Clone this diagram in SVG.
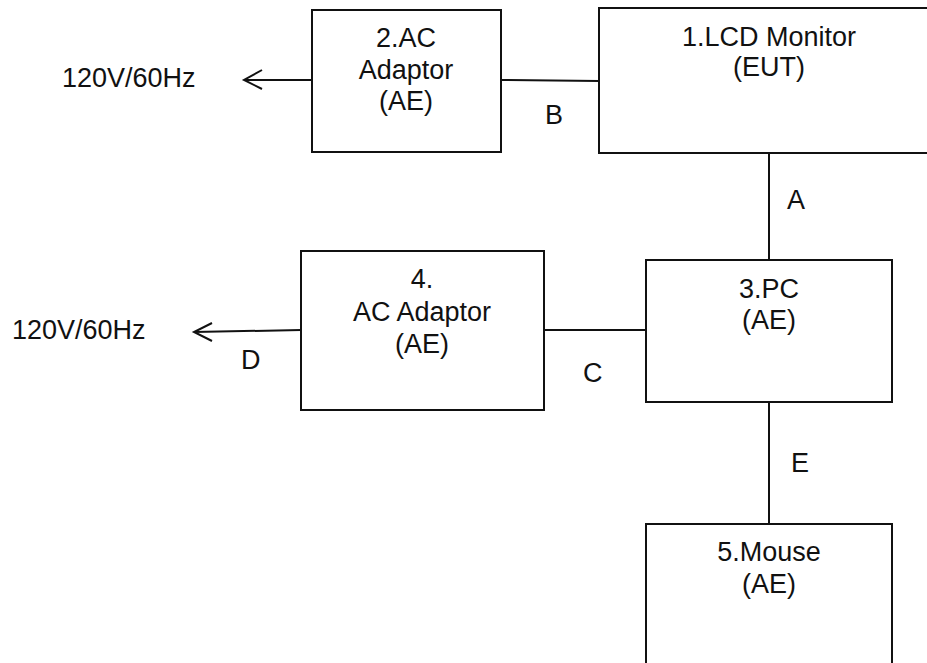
<svg xmlns="http://www.w3.org/2000/svg" width="927" height="663" viewBox="0 0 927 663">
  <style>
    .box { fill: #ffffff; stroke: #111111; stroke-width: 2; }
    .wire { fill: none; stroke: #111111; stroke-width: 2; }
    .t { font-family: "Liberation Sans", Arial, sans-serif; font-size: 27px; fill: #111111; }
    .c { text-anchor: middle; }
  </style>
  <rect x="0" y="0" width="927" height="663" fill="#ffffff"/>

  <g id="connectors">
    <!-- B -->
    <line class="wire" x1="501" y1="80" x2="599" y2="81"/>
    <text class="t" x="545" y="124">B</text>
    <!-- A -->
    <line class="wire" x1="769" y1="153" x2="769" y2="260"/>
    <text class="t" x="787" y="209">A</text>
    <!-- C -->
    <line class="wire" x1="544" y1="330" x2="646" y2="330"/>
    <text class="t" x="583" y="382">C</text>
    <!-- E -->
    <line class="wire" x1="769" y1="402" x2="769" y2="524"/>
    <text class="t" x="791" y="472">E</text>
    <!-- Mains from adaptor 2 -->
    <line class="wire" x1="311" y1="80" x2="244" y2="80"/>
    <polyline class="wire" points="262,70 244,80 262,89"/>
    <text class="t" x="62" y="87">120V/60Hz</text>
    <!-- D: mains from adaptor 4 -->
    <line class="wire" x1="301" y1="330" x2="194" y2="332"/>
    <polyline class="wire" points="212,323 194,332 212,341"/>
    <text class="t" x="12" y="339">120V/60Hz</text>
    <text class="t" x="241" y="369">D</text>
  </g>

  <g id="node1">
    <rect class="box" x="599" y="8" width="340" height="145"/>
    <text class="t c" x="769" y="46">1.LCD Monitor</text>
    <text class="t c" x="769" y="76">(EUT)</text>
  </g>

  <g id="node2">
    <rect class="box" x="312" y="10" width="189" height="142"/>
    <text class="t c" x="406" y="47">2.AC</text>
    <text class="t c" x="406" y="79">Adaptor</text>
    <text class="t c" x="406" y="110">(AE)</text>
  </g>

  <g id="node3">
    <rect class="box" x="646" y="260" width="246" height="142"/>
    <text class="t c" x="769" y="298">3.PC</text>
    <text class="t c" x="769" y="329">(AE)</text>
  </g>

  <g id="node4">
    <rect class="box" x="301" y="251" width="243" height="159"/>
    <text class="t c" x="422" y="288">4.</text>
    <text class="t c" x="422" y="321">AC Adaptor</text>
    <text class="t c" x="422" y="353">(AE)</text>
  </g>

  <g id="node5">
    <rect class="box" x="646" y="524" width="246" height="160"/>
    <text class="t c" x="769" y="561">5.Mouse</text>
    <text class="t c" x="769" y="593">(AE)</text>
  </g>
</svg>
